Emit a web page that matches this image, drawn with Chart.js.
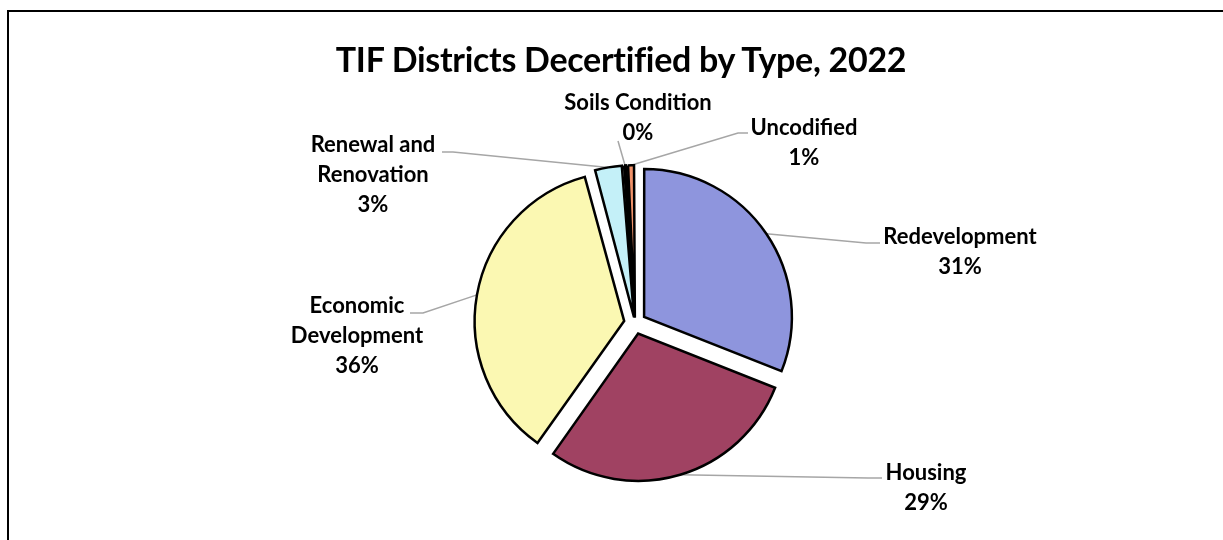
<!DOCTYPE html>
<html>
<head>
<meta charset="utf-8">
<title>TIF Districts Decertified by Type, 2022</title>
<script src="https://cdn.jsdelivr.net/npm/chart.js@4"></script>
<style>
  html, body { margin: 0; padding: 0; background: #fff; overflow: hidden; }
  #wrap { position: relative; width: 1223px; height: 540px; }
  #frame {
    position: absolute; left: 7px; top: 10px; right: -10px; bottom: -10px;
    border-left: 2px solid #000; border-top: 2px solid #000;
  }
  #title {
    position: absolute; left: 0; width: 1242px; top: 38px;
    line-height: 38px; text-align: center;
    font: bold 34px Lato, sans-serif; color: #000; letter-spacing: -0.3px;
  }
  canvas { position: absolute; left: 0; top: 0; }
</style>
</head>
<body>
<div id="wrap">
  <div id="frame"></div>
  <canvas id="chart-types" width="1223" height="540"></canvas>
  <div id="title">TIF Districts Decertified by Type, 2022</div>
</div>
<script>
// District types, clockwise from 12 o'clock (multi-line labels as arrays)
const categories = [
  ['Redevelopment'],
  ['Housing'],
  ['Economic', 'Development'],
  ['Renewal and', 'Renovation'],
  ['Soils Condition'],
  ['Uncodified']
];

// Share of decertified districts, percent
const shares = [31.0, 28.8, 36.0, 3.0, 0.4, 0.8];

const sliceColors = ['#8e95dd', '#a04262', '#fbf8b2', '#c4f0f8', '#3a3a3a', '#f0926a'];

// Exploded distance per slice (Chart.js divides by 4)
const sliceOffsets = [44, 44, 44, 24, 22, 22];

// Where each callout sits: text centre, where the leader meets the text, and its bend
const callouts = [
  { x: 960, y: 237, anchor: [880, 243], elbow: [866, 243] },
  { x: 926, y: 473, anchor: [882, 478], elbow: [868, 478] },
  { x: 357, y: 306, anchor: [410, 313], elbow: [423, 313] },
  { x: 373, y: 145, anchor: [442, 152], elbow: [453, 152] },
  { x: 638, y: 103, anchor: [618, 141], elbow: null },
  { x: 804, y: 128, anchor: [748, 133], elbow: [738, 133] }
];

const LINE_HEIGHT = 30;

function percentText(i) {
  const total = shares.reduce((a, b) => a + b, 0);
  return Math.round(shares[i] / total * 100) + '%';
}

// Point on the outside of an exploded slice, at its middle angle
function sliceTip(arc) {
  const p = arc.getProps(['x', 'y', 'startAngle', 'endAngle', 'outerRadius', 'circumference'], true);
  const off = (arc.options.offset || 0) / 4;
  const fix = 1 - Math.sin(Math.min(Math.PI, p.circumference));
  const r = p.outerRadius + off + off * fix;
  const mid = (p.startAngle + p.endAngle) / 2;
  return [p.x + Math.cos(mid) * r, p.y + Math.sin(mid) * r];
}

const calloutPlugin = {
  id: 'callouts',
  beforeDatasetsDraw(chart) {
    const ctx = chart.ctx;
    const arcs = chart.getDatasetMeta(0).data;
    ctx.save();
    ctx.strokeStyle = '#a6a6a6';
    ctx.lineWidth = 1.5;
    arcs.forEach((arc, i) => {
      const c = callouts[i];
      const tip = sliceTip(arc);
      ctx.beginPath();
      ctx.moveTo(tip[0], tip[1]);
      if (c.elbow) ctx.lineTo(c.elbow[0], c.elbow[1]);
      ctx.lineTo(c.anchor[0], c.anchor[1]);
      ctx.stroke();
    });
    ctx.restore();
  },
  afterDatasetsDraw(chart) {
    const ctx = chart.ctx;
    ctx.save();
    ctx.fillStyle = '#000';
    ctx.font = 'bold 22px Lato, sans-serif';
    ctx.textAlign = 'center';
    ctx.textBaseline = 'middle';
    categories.forEach((lines, i) => {
      const c = callouts[i];
      lines.concat(percentText(i)).forEach((t, k) => {
        ctx.fillText(t, c.x, c.y + k * LINE_HEIGHT);
      });
    });
    ctx.restore();
  }
};

const ctx = document.getElementById('chart-types');

new Chart(ctx, {
  type: 'pie',
  data: {
    labels: categories.map(l => l.join(' ')),
    datasets: [{
      data: shares,
      backgroundColor: sliceColors,
      borderColor: '#000',
      borderWidth: 2.5,
      borderJoinStyle: 'miter',
      offset: sliceOffsets,
      radius: 147
    }]
  },
  options: {
    responsive: false,
    devicePixelRatio: 1,
    animation: false,
    layout: {
      padding: { left: 47, right: 0, top: 106, bottom: 0 }
    },
    plugins: {
      legend: { display: false },
      tooltip: { enabled: false }
    }
  },
  plugins: [calloutPlugin]
});
</script>
</body>
</html>
